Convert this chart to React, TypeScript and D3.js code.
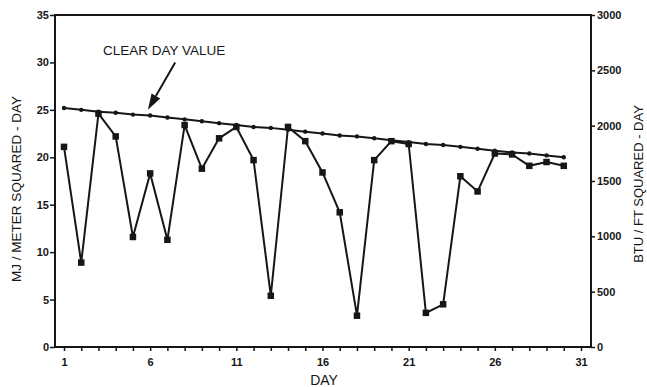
import { useEffect, useRef } from 'react'
import * as d3 from 'd3'

const days = [1, 2, 3, 4, 5, 6, 7, 8, 9, 10, 11, 12, 13, 14, 15, 16, 17, 18, 19, 20, 21, 22, 23, 24, 25, 26, 27, 28, 29, 30]
const measured = [21.1, 8.9, 24.6, 22.2, 11.6, 18.3, 11.3, 23.4, 18.8, 22.0, 23.2, 19.7, 5.4, 23.2, 21.7, 18.4, 14.2, 3.3, 19.7, 21.7, 21.4, 3.6, 4.5, 18.0, 16.4, 20.4, 20.3, 19.1, 19.5, 19.1]
const clearDay = [25.2, 25.0, 24.8, 24.7, 24.5, 24.4, 24.2, 24.0, 23.8, 23.6, 23.4, 23.2, 23.1, 22.9, 22.7, 22.5, 22.3, 22.2, 22.0, 21.8, 21.6, 21.4, 21.3, 21.1, 20.9, 20.7, 20.5, 20.4, 20.2, 20.0]
const dayTicks = [1, 2, 3, 4, 5, 6, 7, 8, 9, 10, 11, 12, 13, 14, 15, 16, 17, 18, 19, 20, 21, 22, 23, 24, 25, 26, 27, 28, 29, 30, 31]
const dayLabels = [1, 6, 11, 16, 21, 26, 31]
const mjTicks = [0, 5, 10, 15, 20, 25, 30, 35]
const btuTicks = [0, 500, 1000, 1500, 2000, 2500, 3000]

// annotation anchor points, in data units (day, MJ)
const noteText = { day: 3.26, value: 30.8 }
const arrowTail = { day: 7.45, value: 30.0 }
const arrowTip = { day: 5.87, value: 25.0 }

const W = 647
const H = 387
const ink = '#161616'
const font = '"Liberation Sans", Arial, sans-serif'

export default function App() {
  const svgRef = useRef<SVGSVGElement>(null)

  useEffect(() => {
    if (!svgRef.current) return
    d3.select(svgRef.current).selectAll('*').remove()

    const svg = d3.select(svgRef.current).attr('width', W).attr('height', H)

    const left = 55, right = 591, top = 15, bottom = 347

    const x = d3.scaleLinear().domain([1, 31]).range([64, 581])
    const y = d3.scaleLinear().domain([0, 35]).range([bottom, top])
    const y2 = d3.scaleLinear().domain([0, 3000]).range([bottom, top])

    // frame
    svg.append('rect')
      .attr('x', left).attr('y', top)
      .attr('width', right - left).attr('height', bottom - top)
      .attr('fill', 'none').attr('stroke', ink).attr('stroke-width', 2)

    const styleAxis = (g: any) => {
      g.select('.domain').remove()
      g.selectAll('line').attr('stroke', ink).attr('stroke-width', 1.5)
      g.selectAll('text')
        .attr('fill', ink)
        .style('font-family', font)
        .style('font-size', '11px')
        .style('font-weight', 'bold')
    }

    svg.append('g')
      .attr('transform', `translate(0,${bottom})`)
      .call(d3.axisBottom(x).tickValues(dayTicks).tickSize(4).tickPadding(7)
        .tickFormat((d: any) => (dayLabels.includes(d) ? String(d) : '')))
      .call(styleAxis)

    svg.append('g')
      .attr('transform', `translate(${left},0)`)
      .call(d3.axisLeft(y).tickValues(mjTicks).tickSize(5).tickPadding(1))
      .call(styleAxis)

    svg.append('g')
      .attr('transform', `translate(${right},0)`)
      .call(d3.axisRight(y2).tickValues(btuTicks).tickSize(4).tickPadding(2).tickFormat(d3.format('d')))
      .call(styleAxis)

    // clear day line
    const line = d3.line<number>()
      .x((_d: number, i: number) => x(days[i]))
      .y((d: number) => y(d))

    svg.append('path')
      .datum(clearDay)
      .attr('d', line)
      .attr('fill', 'none').attr('stroke', ink).attr('stroke-width', 2)

    svg.append('g').selectAll('circle')
      .data(clearDay)
      .enter()
      .append('circle')
      .attr('cx', (_d: number, i: number) => x(days[i]))
      .attr('cy', (d: number) => y(d))
      .attr('r', 2.2)
      .attr('fill', ink)

    // measured line
    svg.append('path')
      .datum(measured)
      .attr('d', line)
      .attr('fill', 'none').attr('stroke', ink).attr('stroke-width', 2)
      .attr('stroke-linejoin', 'miter')

    const sq = 6.5
    svg.append('g').selectAll('rect')
      .data(measured)
      .enter()
      .append('rect')
      .attr('x', (_d: number, i: number) => x(days[i]) - sq / 2)
      .attr('y', (d: number) => y(d) - sq / 2)
      .attr('width', sq).attr('height', sq)
      .attr('fill', ink)

    // annotation
    svg.append('text')
      .attr('x', x(noteText.day)).attr('y', y(noteText.value))
      .attr('fill', ink)
      .style('font-family', font).style('font-size', '13.5px')
      .text('CLEAR DAY VALUE')

    const tx = x(arrowTip.day), ty = y(arrowTip.value)
    const sx = x(arrowTail.day), sy = y(arrowTail.value)
    const len = Math.hypot(tx - sx, ty - sy)
    const ux = (tx - sx) / len, uy = (ty - sy) / len
    const headLen = 16, headW = 5
    const bx = tx - ux * headLen, by = ty - uy * headLen
    svg.append('line')
      .attr('x1', sx).attr('y1', sy).attr('x2', bx).attr('y2', by)
      .attr('stroke', ink).attr('stroke-width', 2)
    svg.append('path')
      .attr('d', `M${tx},${ty}L${bx - uy * headW},${by + ux * headW}L${bx + uy * headW},${by - ux * headW}Z`)
      .attr('fill', ink)

    // axis titles
    svg.append('text')
      .attr('transform', `translate(21,189) rotate(-90)`)
      .attr('text-anchor', 'middle')
      .attr('fill', ink)
      .style('font-family', font).style('font-size', '13.5px')
      .text('MJ / METER SQUARED - DAY')

    svg.append('text')
      .attr('transform', `translate(643,184) rotate(-90)`)
      .attr('text-anchor', 'middle')
      .attr('fill', ink)
      .style('font-family', font).style('font-size', '13px')
      .text('BTU / FT SQUARED - DAY')

    svg.append('text')
      .attr('x', (left + right) / 2 + 1).attr('y', 385)
      .attr('text-anchor', 'middle')
      .attr('fill', ink)
      .style('font-family', font).style('font-size', '14px')
      .text('DAY')
  }, [])

  return (
    <svg ref={svgRef} style={{ position: 'absolute', left: 0, top: 0, background: '#fff' }} />
  )
}
